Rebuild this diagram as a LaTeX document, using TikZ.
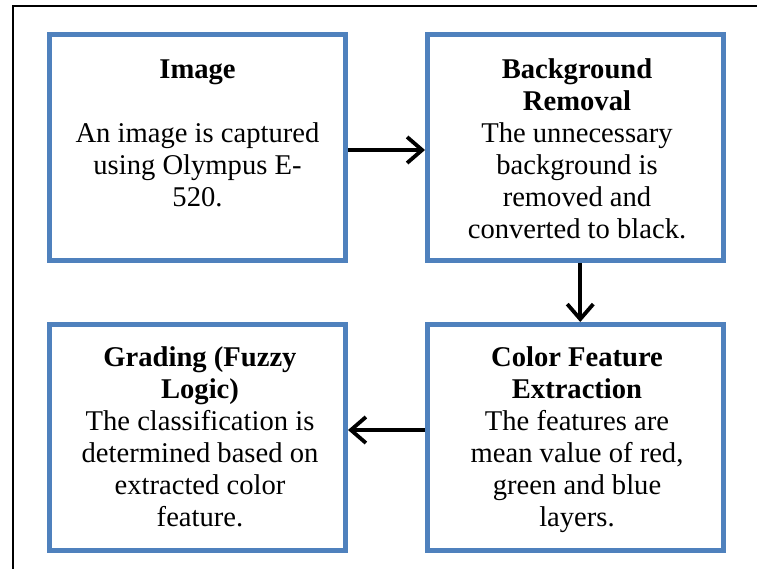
\documentclass[tikz,border=0pt]{standalone}
\usepackage{fontspec}
\setmainfont{Liberation Serif}
\usetikzlibrary{arrows.meta}
\definecolor{boxblue}{HTML}{4F81BD}
\tikzset{
  stage/.style={draw=boxblue, line width=5pt, fill=white, rectangle, inner sep=0pt,
    minimum width=296pt, minimum height=226pt},
  label/.style={anchor=north, align=center, inner sep=0pt, text=black,
    font=\fontsize{28.6}{32}\selectfont},
  arr/.style={line width=3.8pt, -{Straight Barb[length=15pt, width=26pt, line width=3.8pt]}},
}
\begin{document}
\begin{tikzpicture}[x=1pt, y=-1pt]
\useasboundingbox (0,0) rectangle (757,569);
\fill[white] (0,0) rectangle (757,569);
\draw[line width=2pt] (13,569) -- (13,6) -- (757,6);
\node[stage] (b1) at (197.5,147.5) {};
\node[stage, minimum width=295.5pt] (b2) at (575.25,147.5) {};
\node[stage] (b3) at (197.5,437.5) {};
\node[stage, minimum width=295.5pt] (b4) at (575.25,437.5) {};
\node[label] (t1) at (197.5,55.6) {\strut\textbf{Image}\\ \\ An image is captured\\ using Olympus E-\\ 520.};
\node[label] (t2) at (577,55.6) {\strut\textbf{Background}\\ \textbf{Removal}\\ The unnecessary\\ background is\\ removed and\\ converted to black.};
\node[label] (t3) at (200,344) {\strut\textbf{Grading (Fuzzy}\\ \textbf{Logic)}\\ The classification is\\ determined based on\\ extracted color\\ feature.};
\node[label] (t4) at (577,344) {\strut\textbf{Color Feature}\\ \textbf{Extraction}\\ The features are\\ mean value of red,\\ green and blue\\ layers.};
\draw[arr] ([yshift=-2.5pt]b1.east) -- ([yshift=-2.5pt]b2.west);
\draw[arr] ([xshift=5pt]b2.south) -- ([xshift=5pt]b4.north);
\draw[arr] ([yshift=7.5pt]b4.west) -- ([yshift=7.5pt]b3.east);
\end{tikzpicture}
\end{document}
